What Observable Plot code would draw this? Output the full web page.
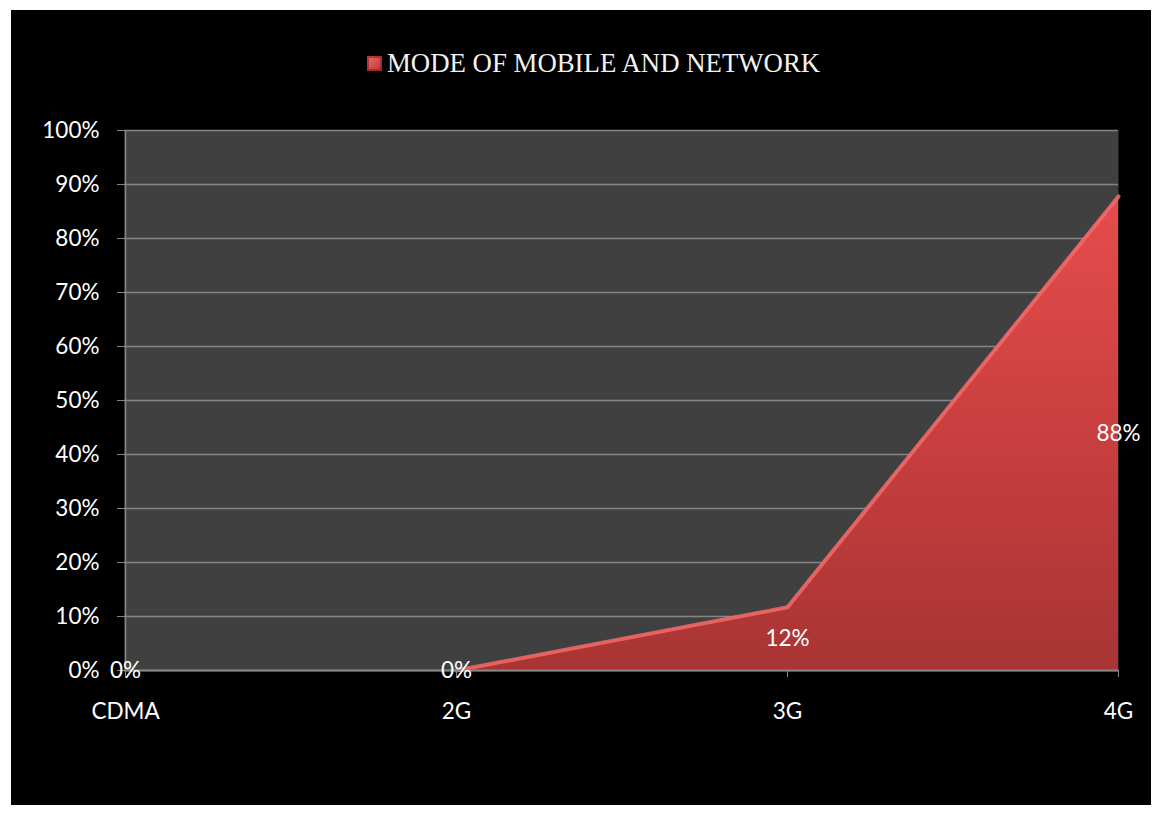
<!DOCTYPE html>
<html>
<head>
<meta charset="utf-8">
<script src="https://cdn.jsdelivr.net/npm/d3@7"></script>
<script src="https://cdn.jsdelivr.net/npm/@observablehq/plot@0.6"></script>
<style>
  html, body { margin: 0; padding: 0; background: #ffffff; }
  #wrap { position: relative; width: 1161px; height: 816px; overflow: hidden; }
  #bg { position: absolute; left: 11px; top: 10px; width: 1140px; height: 795px; background: #000; }
  #chart { position: absolute; left: 0; top: 0; }
  #title { position: absolute; left: 367px; top: 50px; display: flex; align-items: center; gap: 5px;
           font-family: "Liberation Serif", "Times New Roman", serif; font-size: 26.8px; line-height: 26px; color: #f2f2f2; }
  #swatch { width: 15px; height: 15px; background: linear-gradient(135deg, #f06a6a, #b83434);
            box-shadow: inset 0 0 0 2px rgba(120,20,20,0.5); }
</style>
</head>
<body>
<div id="wrap">
  <div id="bg"></div>
  <div id="chart"></div>
  <div id="title"><div id="swatch"></div><span id="titleText"></span></div>
</div>
<script>
const categories = ["CDMA", "2G", "3G", "4G"];
const shares = [0, 0, 0.117, 0.878];
const yTicks = [0, 0.1, 0.2, 0.3, 0.4, 0.5, 0.6, 0.7, 0.8, 0.9, 1.0];
const seriesName = "MODE OF MOBILE AND NETWORK";

const data = categories.map((c, i) => ({cat: c, val: shares[i]}));
const pct = d3.format(".0%");

document.getElementById("titleText").textContent = seriesName;

const chart = Plot.plot({
  width: 1161,
  height: 816,
  marginLeft: 124,
  marginRight: 43,
  marginTop: 130,
  marginBottom: 146,
  style: {background: "transparent", color: "white", fontFamily: "Lato, sans-serif", fontSize: "22px"},
  x: {type: "point", domain: categories, padding: 0},
  y: {domain: [0, 1]},
  marks: [
    Plot.frame({fill: "#404040", stroke: null}),
    Plot.gridY(yTicks, {stroke: "#858585", strokeOpacity: 1, strokeWidth: 1.5}),
    Plot.areaY(data, {x: "cat", y: "val", fill: "url(#redGrad)"}),
    Plot.lineY(data.slice(1), {x: "cat", y: "val", stroke: "#f46a6a", strokeWidth: 4, strokeOpacity: 0.85}),
    Plot.ruleX([categories[0]], {stroke: "#868686", strokeWidth: 1.5}),
    Plot.ruleY([0], {stroke: "#868686", strokeWidth: 2}),
    Plot.axisY(yTicks, {tickSize: 7, tickPadding: 18, tickFormat: pct, stroke: "#868686", label: null, fontSize: 22.5}),
    Plot.axisX({tickSize: 7, tickPadding: 26, stroke: "#868686", label: null, fontSize: 22.5}),
    Plot.text(data, {x: "cat", y: d => d.val / 2, text: d => pct(d.val), fill: "white", fontSize: 22.5})
  ]
});

// gradient definition for the area fill
const y = chart.scale("y");
const svg = d3.select(chart);
const defs = svg.insert("defs", ":first-child");
const g = defs.append("linearGradient")
  .attr("id", "redGrad")
  .attr("gradientUnits", "userSpaceOnUse")
  .attr("x1", 0).attr("x2", 0)
  .attr("y1", y.apply(1)).attr("y2", y.apply(0));
g.append("stop").attr("offset", "0%").attr("stop-color", "#ee5050");
g.append("stop").attr("offset", "55%").attr("stop-color", "#ca3f3f");
g.append("stop").attr("offset", "100%").attr("stop-color", "#a83434");

document.getElementById("chart").appendChild(chart);
</script>
</body>
</html>
